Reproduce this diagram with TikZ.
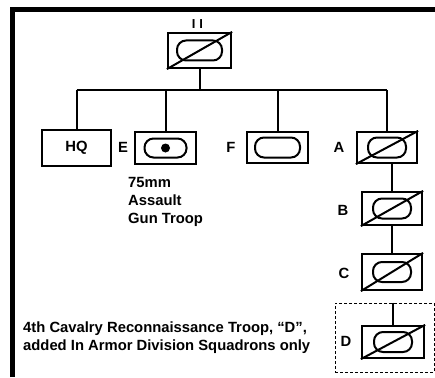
\documentclass[tikz,border=0pt]{standalone}
\usepackage{fontspec}
\setmainfont{Liberation Sans}
\newcommand\myoval[3]{\draw[oval] ([shift={(-#2/2,-#3/2)}]#1.center) rectangle ([shift={(#2/2,#3/2)}]#1.center);}
\newcommand\myslash[1]{\draw[slash] (#1.south west) -- (#1.north east);}
\begin{document}
\begin{tikzpicture}[x=1pt,y=-1pt,
  unitbox/.style={draw, line width=2.2pt, inner sep=0pt, minimum width=61pt, minimum height=32pt},
  lbl/.style={font=\fontsize{14.8}{18}\selectfont\bfseries, inner sep=0pt},
  conn/.style={line width=2pt},
  oval/.style={line width=2pt, rounded corners=9pt},
  slash/.style={line width=2pt}]
\useasboundingbox (0,0) rectangle (435,377);
% frame
\draw[line width=4.5pt] (12.5,377) -- (12.5,9.75) -- (435,9.75);
% squadron
\node[unitbox, minimum width=63pt, minimum height=35pt] (sq) at (199.5,50.5) {};
\node[font=\fontsize{13}{13}\selectfont\bfseries, inner sep=0pt] (ii) at (197.5,24.5) {I\hspace{4pt}I};
\myoval{sq}{45}{20}
\myslash{sq}
% troops
\node[unitbox, minimum width=69pt, minimum height=36pt] (hq) at (76.5,148) {};
\node[lbl] (hqt) at (hq.center) {HQ};
\node[unitbox, minimum width=61pt, minimum height=32pt] (E) at (165.5,148) {};
\myoval{E}{42}{19}
\fill (E.center) circle (4.5pt);
\node[unitbox, minimum width=61pt, minimum height=31pt] (F) at (277.5,147.5) {};
\myoval{F}{45}{20}
\node[unitbox, minimum width=60pt, minimum height=31pt] (A) at (387,147.5) {};
\myoval{A}{38}{20}
\myslash{A}
\node[unitbox, minimum width=60pt, minimum height=33pt] (B) at (392,208.5) {};
\myoval{B}{38}{20}
\myslash{B}
\node[unitbox, minimum width=60pt, minimum height=36pt] (C) at (392,272) {};
\myoval{C}{38}{20}
\myslash{C}
\node[draw, densely dashed, line width=0.7pt, inner sep=0pt, minimum width=99pt, minimum height=69pt] (dfr) at (384.5,337.5) {};
\node[unitbox, minimum width=62pt, minimum height=32pt] (D) at (393,342) {};
\myoval{D}{38}{20}
\myslash{D}
% labels
\node[lbl] (lE) at (123,147) {E};
\node[lbl] (lF) at (231,147) {F};
\node[lbl] (lA) at (339,147) {A};
\node[lbl] (lB) at (343,210) {B};
\node[lbl] (lC) at (344,273) {C};
\node[lbl] (lD) at (346,341) {D};
% connectors
\coordinate (J) at (199.5,90);
\draw[conn] (sq.south) -- (J);
\draw[conn] (J -| hq) -- (J -| A);
\foreach \n in {hq,E,F,A} \draw[conn] (J -| \n) -- (\n.north);
\draw[conn] (A.south -| B.north) -- (B.north);
\draw[conn] (B.south -| C.north) -- (C.north);
\draw[conn] (dfr.north -| D.north) -- (D.north);
% texts
\node[lbl, align=left, anchor=north west] (gun) at (128,177) {75mm\\Assault\\Gun Troop};
\node[lbl, align=left, anchor=north west] (note) at (23,322) {4th Cavalry Reconnaissance Troop, “D”,\\added In Armor Division Squadrons only};
\end{tikzpicture}
\end{document}
